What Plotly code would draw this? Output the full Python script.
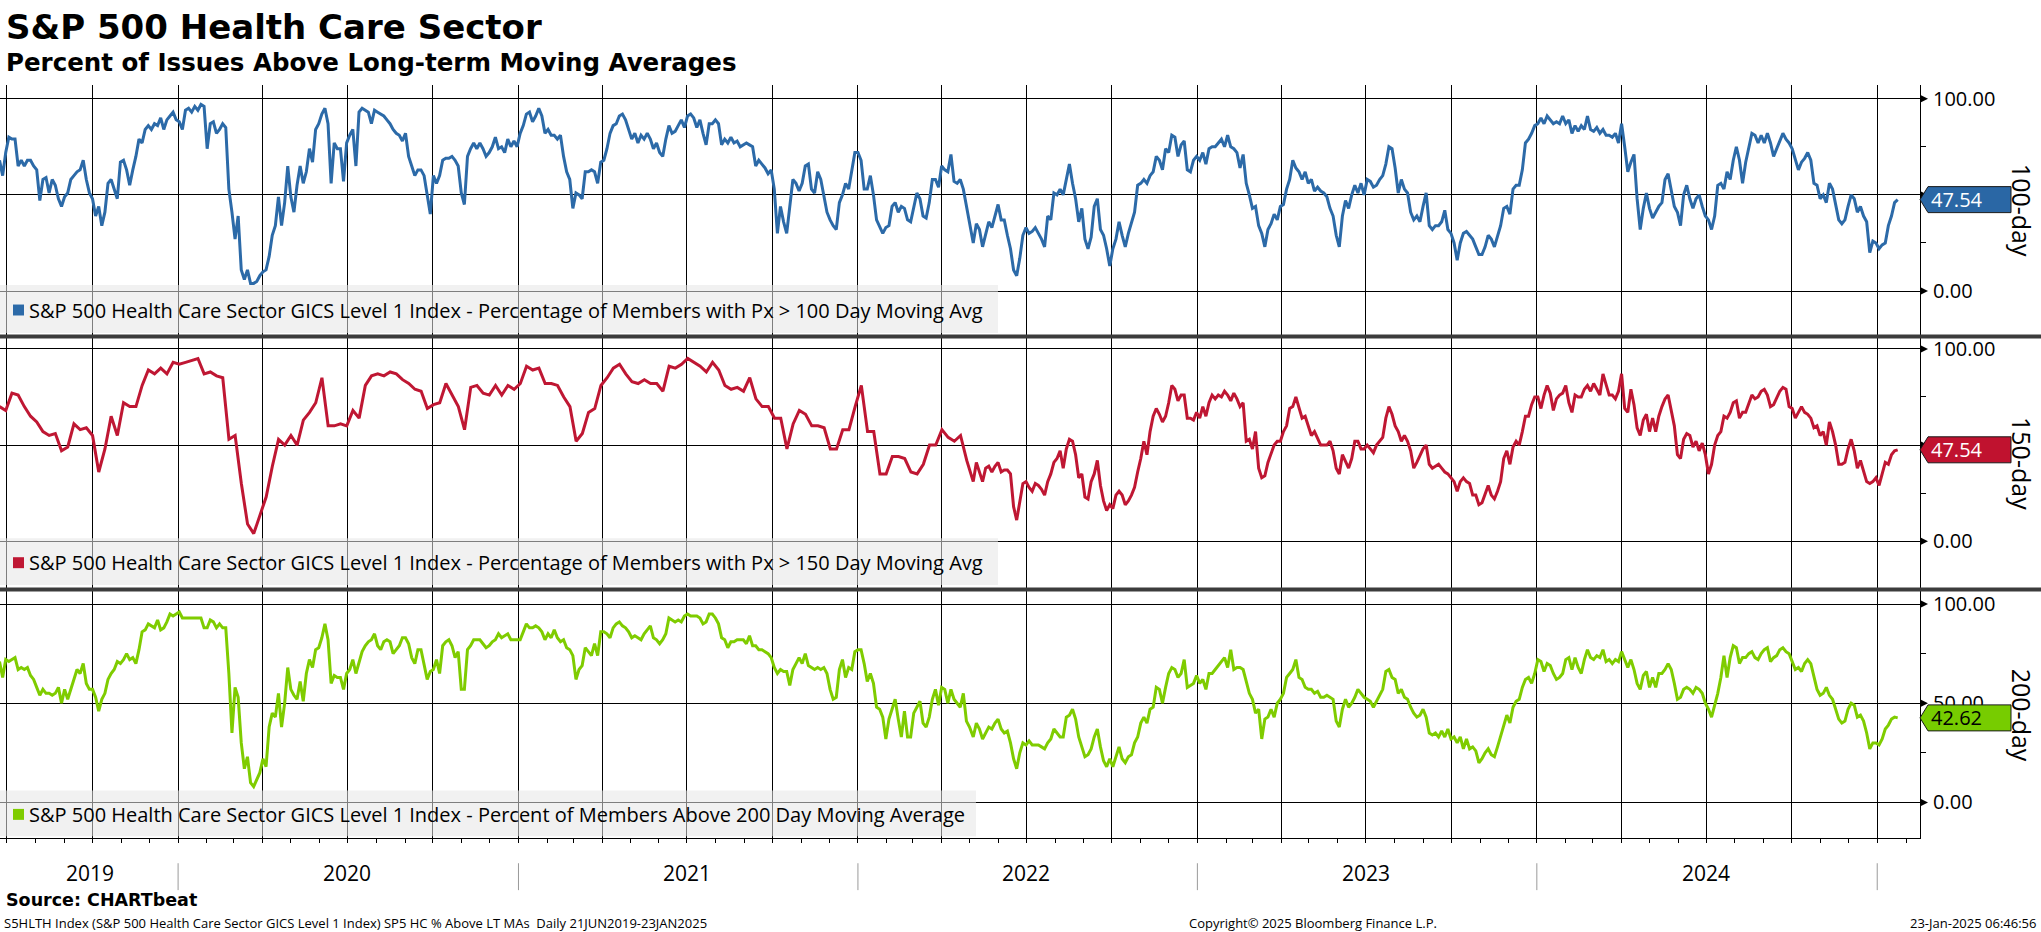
import pandas as pd
import plotly.graph_objects as go

W, H = 2041, 932
FONT = "Open Sans"
HEAD_FONT = "DejaVu Sans"

X_RANGE = ["2019-06-23 12:00", "2025-02-16"]

# Each series is read in two pieces (first span / second span) with its date bounds.
SPAN1_START = "2019-06-23"
SPAN1_END_FINE = "2022-05-01"     # end of the finely read first spans
SPAN1_END_COARSE = "2022-04-28"   # end of the coarsely read first span (150-day)
SPAN2_START = "2022-05-05"
SPAN2_END = "2025-01-23"

# % of S&P 500 Health Care members above their 100-day moving average
pct_100d_span1 = [
    68, 60, 72, 80, 79, 79, 65, 68, 65, 68, 68, 65, 63, 47, 58, 59, 51, 58, 55, 48,
    44, 49, 51, 58, 60, 62, 63, 68, 58, 51, 48, 39, 44, 34, 41, 56, 58, 53, 48, 67,
    68, 63, 55, 63, 70, 79, 77, 84, 86, 84, 87, 86, 90, 84, 89, 91, 93, 89, 88, 84,
    94, 95, 93, 96, 94, 97, 96, 74, 87, 88, 82, 84, 87, 85, 53, 41, 27, 39, 11, 6,
    11, 4, 4, 5, 8, 10, 11, 18, 29, 34, 49, 34, 46, 65, 49, 41, 55, 65, 56, 62,
    74, 67, 84, 87, 92, 95, 87, 56, 77, 74, 74, 57, 77, 81, 84, 65, 93, 95, 94, 93,
    87, 94, 93, 92, 91, 89, 87, 84, 82, 81, 78, 82, 70, 65, 60, 63, 63, 60, 51, 40,
    60, 56, 60, 68, 69, 69, 70, 68, 65, 51, 45, 70, 74, 77, 74, 77, 74, 70, 72, 75,
    80, 74, 75, 72, 79, 75, 78, 75, 82, 86, 92, 93, 88, 91, 95, 91, 82, 84, 81, 81,
    79, 81, 70, 62, 58, 43, 51, 50, 48, 62, 62, 63, 62, 56, 67, 68, 74, 82, 86, 87,
    91, 92, 89, 84, 79, 82, 77, 81, 79, 82, 79, 74, 77, 72, 70, 79, 86, 82, 83, 86,
    89, 85, 91, 92, 90, 85, 89, 82, 76, 87, 87, 89, 87, 76, 79, 77, 80, 77, 78, 75,
    76, 77, 76, 75, 65, 68, 66, 64, 61, 63, 53, 30, 44, 36, 30, 44, 58, 56, 52, 56,
    65, 66, 53, 51, 62, 58, 50, 41, 37, 34, 32, 46, 50, 56, 53, 62, 72, 72, 68, 53,
    53, 60, 50, 37, 33, 30, 33, 34, 44, 46, 41, 44, 43, 37, 36, 43, 51, 48, 39, 38,
    46, 58, 58, 54, 65, 63, 62, 71, 57, 56, 58, 53, 44, 34,
]
pct_100d_span2 = [
    25, 35, 32, 23, 29, 36, 33, 39, 45, 37, 37, 29, 22, 11, 8, 17, 29, 33, 30, 31,
    33, 30, 27, 23, 39, 37, 51, 50, 53, 50, 58, 66, 56, 48, 36, 43, 27, 22, 28, 44,
    48, 32, 29, 22, 13, 22, 27, 36, 29, 23, 30, 36, 41, 55, 56, 58, 56, 60, 62, 70,
    68, 63, 74, 72, 81, 80, 70, 76, 78, 63, 62, 68, 70, 68, 72, 66, 74, 75, 75, 77,
    79, 75, 81, 75, 74, 72, 64, 71, 56, 50, 43, 44, 34, 30, 23, 32, 35, 40, 37, 44,
    45, 53, 58, 68, 64, 62, 58, 62, 56, 58, 52, 54, 52, 51, 49, 43, 39, 29, 23, 39,
    47, 43, 50, 55, 51, 56, 50, 58, 57, 54, 55, 58, 60, 66, 75, 74, 64, 51, 58, 53,
    51, 41, 37, 39, 36, 44, 51, 34, 32, 34, 34, 36, 42, 32, 30, 25, 16, 25, 30, 31,
    29, 27, 23, 19, 19, 23, 29, 27, 23, 29, 34, 43, 44, 40, 53, 55, 55, 63, 77, 79,
    82, 86, 87, 90, 87, 91, 89, 87, 88, 87, 91, 87, 89, 82, 86, 83, 86, 84, 91, 84,
    83, 85, 82, 84, 81, 81, 80, 82, 77, 87, 75, 62, 67, 71, 48, 32, 43, 51, 43, 38,
    41, 44, 46, 58, 61, 53, 44, 41, 34, 50, 55, 48, 43, 48, 50, 44, 39, 37, 32, 39,
    55, 56, 53, 62, 58, 68, 75, 68, 56, 67, 74, 82, 81, 77, 81, 77, 82, 77, 70, 74,
    77, 82, 79, 77, 74, 68, 63, 67, 69, 72, 68, 56, 55, 48, 50, 46, 56, 53, 44, 37,
    35, 37, 44, 50, 48, 41, 44, 39, 36, 20, 26, 25, 22, 24, 25, 34, 39, 46, 47.54,
]

# % of members above their 150-day moving average
pct_150d_span1 = [
    70, 68, 77, 76, 70, 65, 62, 57, 55, 56, 47, 49, 61, 58, 59, 55, 36, 48, 65, 55,
    72, 70, 70, 81, 89, 87, 90, 87, 93, 92, 93, 94, 95, 87, 88, 86, 85, 53, 55, 30,
    9, 4, 14, 23, 39, 53, 50, 55, 50, 63, 67, 72, 85, 60, 60, 61, 60, 68, 64, 81,
    86, 87, 86, 88, 87, 84, 82, 79, 78, 69, 71, 72, 82, 76, 70, 58, 80, 81, 77, 76,
    81, 76, 81, 79, 82, 91, 89, 90, 82, 82, 81, 75, 70, 52, 56, 67, 69, 81, 85, 90,
    92, 87, 83, 82, 84, 82, 82, 78, 91, 90, 92, 95, 93, 91, 88, 93, 89, 81, 79, 80,
    78, 85, 74, 70, 70, 64, 64, 48, 61, 68, 66, 60, 60, 59, 48, 48, 58, 58, 70, 81,
    57, 57, 35, 35, 44, 44, 43, 36, 35, 40, 50, 50, 58, 54, 52, 55, 42,
]
pct_150d_span2 = [
    31, 41, 36, 31, 38, 39, 36, 39, 41, 36, 37, 37, 35, 18, 11, 21, 30, 31, 28, 26,
    30, 29, 27, 24, 31, 35, 41, 43, 47, 38, 48, 53, 52, 45, 33, 35, 23, 22, 31, 35,
    42, 29, 21, 16, 19, 17, 24, 26, 24, 19, 21, 24, 28, 36, 43, 52, 45, 57, 65, 69,
    66, 62, 65, 72, 81, 79, 73, 76, 76, 64, 64, 63, 67, 64, 70, 65, 72, 76, 74, 76,
    75, 78, 76, 73, 77, 74, 70, 72, 52, 53, 48, 57, 38, 33, 34, 41, 45, 50, 52, 52,
    57, 60, 69, 70, 75, 70, 64, 65, 60, 55, 57, 53, 50, 50, 50, 52, 47, 38, 35, 45,
    41, 38, 43, 52, 52, 48, 48, 50, 48, 46, 50, 52, 54, 64, 70, 66, 60, 57, 52, 55,
    52, 47, 38, 41, 45, 48, 50, 40, 38, 39, 40, 38, 36, 35, 33, 31, 26, 31, 33, 31,
    30, 24, 24, 19, 20, 24, 29, 24, 22, 26, 31, 43, 47, 40, 49, 52, 50, 57, 65, 65,
    71, 75, 75, 69, 76, 81, 77, 68, 74, 76, 77, 81, 72, 67, 76, 75, 75, 79, 81, 78,
    82, 79, 76, 87, 81, 76, 76, 74, 78, 87, 69, 67, 79, 71, 59, 55, 63, 66, 57, 64,
    57, 65, 70, 74, 76, 67, 60, 45, 43, 53, 56, 55, 49, 52, 47, 51, 45, 35, 40, 50,
    55, 57, 65, 64, 67, 72, 73, 64, 67, 67, 72, 76, 74, 75, 78, 79, 76, 70, 71, 75,
    78, 80, 79, 70, 69, 64, 67, 70, 67, 66, 64, 59, 60, 55, 57, 50, 62, 57, 50, 40,
    40, 41, 48, 53, 47, 38, 42, 36, 31, 30, 31, 33, 29, 35, 41, 40, 45, 47, 47.54,
]

# % of members above their 200-day moving average
pct_200d_span1 = [
    71, 63, 72, 71, 72, 73, 67, 68, 67, 68, 64, 62, 58, 54, 57, 55, 55, 54, 55, 58,
    50, 57, 52, 57, 63, 67, 65, 70, 60, 57, 57, 53, 46, 52, 55, 62, 65, 67, 71, 70,
    72, 75, 72, 73, 70, 77, 86, 87, 90, 89, 88, 92, 87, 88, 91, 95, 94, 95, 96, 93,
    93, 93, 93, 93, 93, 93, 88, 88, 92, 91, 88, 90, 88, 88, 65, 35, 58, 53, 30, 17,
    23, 10, 8, 12, 15, 22, 18, 38, 45, 43, 55, 38, 50, 68, 57, 54, 52, 61, 51, 65,
    72, 68, 77, 78, 83, 90, 82, 60, 64, 63, 63, 57, 65, 67, 72, 65, 70, 76, 79, 81,
    82, 85, 79, 77, 81, 82, 81, 75, 77, 79, 83, 83, 80, 73, 70, 77, 77, 69, 62, 66,
    67, 72, 65, 79, 81, 82, 79, 73, 76, 57, 57, 77, 79, 82, 82, 82, 80, 78, 79, 81,
    82, 85, 83, 84, 85, 82, 82, 82, 82, 86, 90, 88, 88, 89, 88, 86, 82, 85, 83, 87,
    83, 81, 82, 78, 77, 74, 62, 67, 69, 78, 76, 74, 80, 74, 86, 86, 85, 83, 88, 90,
    91, 89, 88, 86, 83, 84, 83, 82, 85, 87, 89, 83, 82, 80, 82, 85, 93, 92, 91, 92,
    91, 94, 95, 94, 94, 94, 93, 90, 91, 95, 95, 93, 90, 83, 82, 78, 81, 81, 82, 82,
    82, 80, 84, 79, 79, 77, 77, 76, 75, 73, 68, 65, 67, 66, 66, 59, 67, 70, 73, 70,
    75, 69, 68, 67, 68, 67, 68, 65, 57, 52, 53, 67, 72, 63, 68, 67, 76, 77, 77, 70,
    61, 65, 60, 48, 47, 43, 32, 42, 47, 52, 42, 33, 46, 33, 33, 45, 48, 51, 40, 38,
    43, 52, 57, 49, 58, 57, 50, 57, 52, 50, 48, 55, 41, 38,
]
pct_200d_span2 = [
    33, 40, 37, 32, 35, 38, 37, 40, 42, 37, 35, 36, 30, 22, 17, 25, 30, 29, 31, 29,
    29, 29, 28, 27, 30, 32, 37, 35, 33, 33, 43, 44, 47, 42, 33, 28, 23, 24, 27, 33,
    37, 28, 21, 18, 22, 18, 23, 28, 22, 20, 23, 24, 30, 33, 40, 43, 40, 47, 48, 58,
    57, 50, 58, 65, 68, 67, 63, 65, 72, 58, 59, 60, 64, 60, 62, 57, 65, 65, 67, 69,
    71, 73, 68, 77, 67, 68, 68, 67, 61, 55, 52, 45, 47, 32, 42, 43, 47, 43, 50, 52,
    55, 63, 65, 67, 72, 63, 62, 58, 57, 57, 55, 56, 53, 53, 54, 53, 52, 41, 38, 47,
    52, 48, 50, 53, 57, 55, 53, 52, 51, 48, 51, 54, 57, 66, 67, 63, 62, 55, 57, 53,
    52, 48, 45, 43, 44, 47, 43, 35, 34, 35, 33, 36, 33, 37, 32, 33, 30, 33, 27, 32,
    27, 28, 26, 20, 22, 25, 27, 24, 23, 28, 33, 38, 44, 40, 48, 51, 52, 58, 62, 63,
    60, 65, 72, 71, 66, 70, 69, 65, 62, 63, 65, 72, 73, 67, 73, 68, 65, 72, 77, 73,
    72, 74, 73, 77, 71, 72, 70, 72, 71, 76, 72, 68, 72, 67, 60, 57, 64, 66, 58, 63,
    58, 65, 65, 67, 70, 67, 60, 52, 53, 57, 58, 57, 55, 58, 57, 55, 50, 47, 43, 49,
    55, 63, 74, 63, 73, 79, 78, 70, 73, 73, 75, 76, 73, 72, 75, 77, 78, 71, 73, 74,
    77, 78, 76, 75, 71, 67, 68, 66, 70, 72, 70, 63, 57, 54, 55, 58, 54, 52, 47, 42,
    40, 41, 47, 50, 49, 43, 44, 41, 35, 27, 30, 30, 29, 32, 37, 39, 42, 43, 42.62,
]

series_spans = [
    [(pct_100d_span1, SPAN1_START, SPAN1_END_FINE), (pct_100d_span2, SPAN2_START, SPAN2_END)],
    [(pct_150d_span1, SPAN1_START, SPAN1_END_COARSE), (pct_150d_span2, SPAN2_START, SPAN2_END)],
    [(pct_200d_span1, SPAN1_START, SPAN1_END_FINE), (pct_200d_span2, SPAN2_START, SPAN2_END)],
]
axis_titles = ["100-day", "150-day", "200-day"]
legend_labels = [
    "S&amp;P 500 Health Care Sector GICS Level 1 Index - Percentage of Members with Px &gt; 100 Day Moving Avg",
    "S&amp;P 500 Health Care Sector GICS Level 1 Index - Percentage of Members with Px &gt; 150 Day Moving Avg",
    "S&amp;P 500 Health Care Sector GICS Level 1 Index - Percent of Members Above 200 Day Moving Average",
]
line_colors = ["#2c6aa8", "#bf1733", "#7fcc00"]
tag_fills = ["#2a67a5", "#c0122f", "#77cc00"]
tag_text_colors = ["white", "white", "black"]
y_tick_vals = [0, 50, 100]
y_tick_text = ["0.00", "50.00", "100.00"]

year_labels = ["2019", "2020", "2021", "2022", "2023", "2024"]
year_label_dates = ["2019-09-28", "2020-07-01", "2021-07-01", "2022-07-01", "2023-07-01", "2024-07-01"]
year_bound_dates = ["2020-01-01", "2021-01-01", "2022-01-01", "2023-01-01", "2024-01-01", "2025-01-01"]

# layout geometry in pixels: (top, bottom, y of 100, y of 0)
panels_px = [(82, 333, 96, 289), (336, 587, 347, 540), (590, 838, 603, 802)]
legend_band_px = [(283, 331, 998), (537, 584, 998), (790, 836, 976)]
AXIS_X_PX = 1920
TAG_HALF_PX = 13


def px_x(p):
    return p / W


def px_y(p):
    return 1 - p / H


fig = go.Figure()
layout = dict(
    width=W, height=H, margin=dict(l=0, r=0, t=0, b=0),
    paper_bgcolor="white", plot_bgcolor="white", showlegend=False,
    font=dict(family=FONT, color="black"),
)
shapes, annotations = [], []

for i, spans in enumerate(series_spans):
    sfx = "" if i == 0 else str(i + 1)
    top, bot, y100, y0 = panels_px[i]
    ppu = (y0 - y100) / 100.0
    lo = -(bot - y0) / ppu
    hi = 100 + (y100 - top) / ppu
    xs, ys = [], []
    for vals, d0, d1 in spans:
        xs += list(pd.date_range(d0, d1, periods=len(vals)))
        ys += list(vals)
    last = ys[-1]
    fig.add_trace(go.Scatter(
        x=xs, y=ys, mode="lines",
        line=dict(color=line_colors[i], width=3),
        xaxis="x" + sfx, yaxis="y" + sfx, hoverinfo="skip",
    ))
    xa = dict(
        domain=[0, px_x(AXIS_X_PX)], range=X_RANGE, type="date", anchor="y" + sfx,
        showgrid=True, gridcolor="black", gridwidth=1,
        tick0="2019-07-01", dtick="M3", showticklabels=False,
        zeroline=False, showline=False, fixedrange=True, ticks="",
    )
    if i > 0:
        xa["matches"] = "x"
    if i == 2:
        xa.update(ticks="outside", ticklen=4, tickcolor="black", tickwidth=1,
                  showline=True, linecolor="black", linewidth=1,
                  minor=dict(dtick="M1", tick0="2019-07-01", ticks="outside",
                             ticklen=4, tickcolor="black", showgrid=False))
    layout["xaxis" + sfx] = xa
    # tick labels hidden behind the last-value tag are left blank
    ttext = [
        t if abs(v - last) * ppu > TAG_HALF_PX - 3 else ""
        for v, t in zip(y_tick_vals, y_tick_text)
    ]
    layout["yaxis" + sfx] = dict(
        domain=[px_y(bot), px_y(top)], range=[lo, hi], anchor="x" + sfx, side="right",
        tickvals=y_tick_vals, ticktext=ttext, showgrid=True, gridcolor="black",
        gridwidth=1, zeroline=False, showline=True, linecolor="black", linewidth=1,
        ticks="", ticklabelstandoff=8, fixedrange=True,
        tickfont=dict(family=FONT, size=20, color="black"),
        minor=dict(tickvals=[25, 75], ticks="outside", ticklen=5, tickcolor="black",
                   showgrid=False),
    )
    # arrowheads on the major ticks
    for tv in y_tick_vals:
        shapes.append(dict(
            type="path", xref="paper", yref="y" + sfx, xsizemode="pixel",
            ysizemode="pixel", xanchor=px_x(AXIS_X_PX), yanchor=tv,
            path="M0,-4 L8,0 L0,4 Z", fillcolor="black", line=dict(width=0),
            layer="above",
        ))
    # last-value tag
    shapes.append(dict(
        type="path", xref="paper", yref="y" + sfx, xsizemode="pixel",
        ysizemode="pixel", xanchor=px_x(AXIS_X_PX), yanchor=last,
        path=f"M0,0 L8,{TAG_HALF_PX} L91,{TAG_HALF_PX} L91,-{TAG_HALF_PX} L8,-{TAG_HALF_PX} Z",
        fillcolor=tag_fills[i], line=dict(color="#1a1a1a", width=1), layer="above",
    ))
    annotations.append(dict(
        xref="paper", yref="y" + sfx, x=px_x(AXIS_X_PX + 9), y=last,
        xanchor="left", yanchor="middle", showarrow=False, text=f"{last:.2f}",
        font=dict(family=FONT, size=20, color=tag_text_colors[i]),
    ))
    # axis title on the far right
    annotations.append(dict(
        xref="paper", yref="paper", x=px_x(2022), y=px_y((top + bot) / 2),
        xanchor="center", yanchor="middle", showarrow=False, textangle=90,
        text=axis_titles[i], font=dict(family=FONT, size=25, color="black"),
    ))
    # legend band
    b_top, b_bot, b_right = legend_band_px[i]
    shapes.append(dict(
        type="rect", xref="paper", yref="paper", x0=0, x1=px_x(b_right),
        y0=px_y(b_bot), y1=px_y(b_top), fillcolor="rgba(229,229,229,0.55)",
        line=dict(width=0), layer="above",
    ))
    mid = (b_top + b_bot) / 2 + 1
    shapes.append(dict(
        type="rect", xref="paper", yref="paper", x0=px_x(13), x1=px_x(24),
        y0=px_y(mid + 5.5), y1=px_y(mid - 5.5), fillcolor=line_colors[i],
        line=dict(width=0), layer="above",
    ))
    annotations.append(dict(
        xref="paper", yref="paper", x=px_x(27), y=px_y(mid), xanchor="left",
        yanchor="middle", showarrow=False, text=legend_labels[i],
        font=dict(family=FONT, size=20, color="black"),
    ))

# thick separators between panels
for sep in (334.5, 588.5):
    shapes.append(dict(type="line", xref="paper", yref="paper", x0=0, x1=1,
                       y0=px_y(sep), y1=px_y(sep), line=dict(color="#3c3c3c", width=4),
                       layer="above"))

# year labels and separators under the bottom axis
for lab, d in zip(year_labels, year_label_dates):
    annotations.append(dict(xref="x3", yref="paper", x=d, y=px_y(872.5), xanchor="center",
                            yanchor="middle", showarrow=False, text=lab,
                            font=dict(family=FONT, size=21, color="black")))
for d in year_bound_dates:
    shapes.append(dict(type="line", xref="x3", yref="paper", x0=d, x1=d,
                       y0=px_y(890), y1=px_y(863), line=dict(color="#9a9a9a", width=1)))

# titles and footer
annotations += [
    dict(xref="paper", yref="paper", x=px_x(4), y=px_y(24), xanchor="left", yanchor="middle",
         showarrow=False, text="S&amp;P 500 Health Care Sector",
         font=dict(family=HEAD_FONT, size=34, color="black", weight="bold")),
    dict(xref="paper", yref="paper", x=px_x(4), y=px_y(59.5), xanchor="left", yanchor="middle",
         showarrow=False, text="Percent of Issues Above Long-term Moving Averages",
         font=dict(family=HEAD_FONT, size=24.5, color="black", weight="bold")),
    dict(xref="paper", yref="paper", x=px_x(4), y=px_y(900), xanchor="left", yanchor="middle",
         showarrow=False, text="Source: CHARTbeat",
         font=dict(family=HEAD_FONT, size=17.5, color="black", weight="bold")),
    dict(xref="paper", yref="paper", x=px_x(2), y=px_y(922.5), xanchor="left", yanchor="middle",
         showarrow=False,
         text="S5HLTH Index (S&amp;P 500 Health Care Sector GICS Level 1 Index) SP5 HC % Above LT MAs  Daily 21JUN2019-23JAN2025",
         font=dict(family=FONT, size=13, color="black")),
    dict(xref="paper", yref="paper", x=px_x(1187), y=px_y(922.5), xanchor="left", yanchor="middle",
         showarrow=False, text="Copyright© 2025 Bloomberg Finance L.P.",
         font=dict(family=FONT, size=13, color="black")),
    dict(xref="paper", yref="paper", x=px_x(2038), y=px_y(922.5), xanchor="right", yanchor="middle",
         showarrow=False, text="23-Jan-2025 06:46:56",
         font=dict(family=FONT, size=13, color="black")),
]

layout["shapes"] = shapes
layout["annotations"] = annotations
fig.update_layout(**layout)

fig.write_html(
    "out.html",
    config={"displayModeBar": False, "responsive": False},
    post_script="document.body.style.margin='0';document.body.style.overflow='hidden';",
)
